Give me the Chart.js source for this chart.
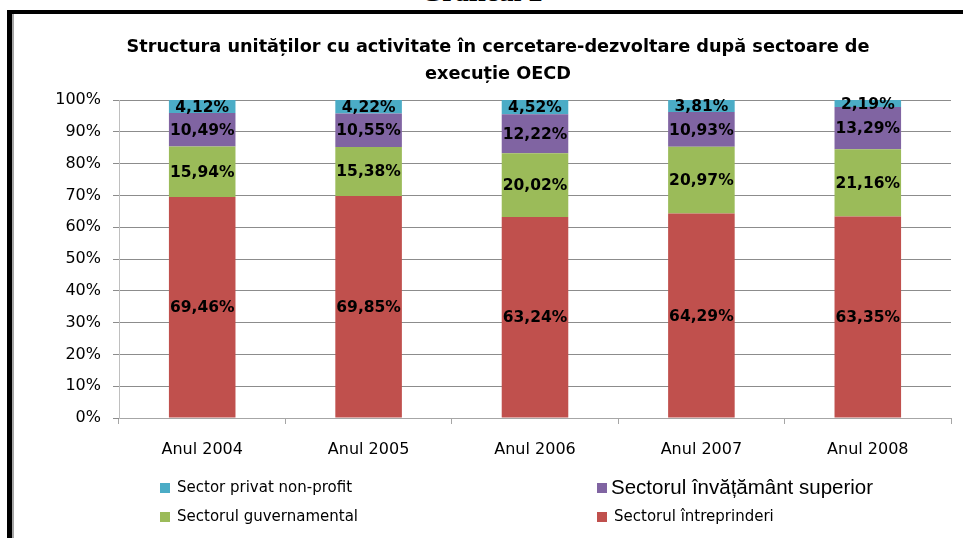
<!DOCTYPE html>
<html>
<head>
<meta charset="utf-8">
<script src="https://cdn.jsdelivr.net/npm/chart.js@4/dist/chart.umd.min.js"></script>
<style>
  html, body { margin: 0; padding: 0; background: #fff; }
  #wrap { position: relative; width: 963px; height: 538px; overflow: hidden; }
  #frame { position: absolute; left: 7px; top: 10px; right: -10px; bottom: -10px;
           border-left: 5px solid #000; border-top: 4px solid #000; }
  #inner { position: absolute; left: 12px; top: 14px; width: 2px; bottom: 0; background: #a6a6a6; }
  #cap { position: absolute; left: 0; width: 963px; top: -24px; line-height: 28px; text-align: center;
         font: bold 28px "Liberation Serif", serif; color: #000; }
  canvas { position: absolute; left: 0; top: 0; }
</style>
</head>
<body>
<div id="wrap">
  <div id="cap">Graficul 2</div>
  <div id="frame"></div>
  <div id="inner"></div>
  <canvas id="chart" width="963" height="538"></canvas>
</div>
<script>
// ani
var categories = ['Anul 2004', 'Anul 2005', 'Anul 2006', 'Anul 2007', 'Anul 2008'];
// procente pe sectoare
var intreprinderi = [69.46, 69.85, 63.24, 64.29, 63.35];
var guvernamental = [15.94, 15.38, 20.02, 20.97, 21.16];
var superior = [10.49, 10.55, 12.22, 10.93, 13.29];
var privat = [4.12, 4.22, 4.52, 3.81, 2.19];
var yTicks = [0, 10, 20, 30, 40, 50, 60, 70, 80, 90, 100];

var titleLines = ['Structura unităților cu activitate în cercetare-dezvoltare după sectoare de', 'execuție OECD'];

function fmt(v) {
  return v.toFixed(2).replace('.', ',') + '%';
}

// etichete in mijlocul segmentelor
var labelPlugin = {
  id: 'segLabels',
  afterDatasetsDraw: function(chart) {
    var ctx = chart.ctx;
    ctx.save();
    ctx.font = 'bold 15.5px "DejaVu Sans"';
    ctx.fillStyle = '#000';
    ctx.textAlign = 'center';
    ctx.textBaseline = 'middle';
    chart.data.datasets.forEach(function(ds, i) {
      var meta = chart.getDatasetMeta(i);
      meta.data.forEach(function(bar, j) {
        var mid = (bar.y + bar.base) / 2;
        ctx.fillText(fmt(ds.data[j]), bar.x, mid + 1);
      });
    });
    ctx.restore();
  }
};

// titlu si legenda
var textPlugin = {
  id: 'texts',
  afterDraw: function(chart) {
    var ctx = chart.ctx;
    ctx.save();
    ctx.fillStyle = '#000';
    ctx.textAlign = 'center';
    ctx.textBaseline = 'middle';
    ctx.font = 'bold 17.7px "DejaVu Sans"';
    ctx.fillText(titleLines[0], 498, 47);
    ctx.fillText(titleLines[1], 498, 74);

    var order = [3, 2, 1, 0];
    var cols = [160, 597];
    var rows = [488, 517];
    order.forEach(function(di, k) {
      var ds = chart.data.datasets[di];
      var x = cols[k % 2];
      var y = rows[Math.floor(k / 2)];
      ctx.fillStyle = ds.backgroundColor;
      ctx.fillRect(x, y - 5, 10, 10);
      ctx.fillStyle = '#000';
      ctx.textAlign = 'left';
      ctx.font = di === 2 ? '20.5px "Liberation Sans"' : '15px "DejaVu Sans"';
      ctx.fillText(ds.label, x + (di === 2 ? 14 : 17), y);
    });
    ctx.restore();
  }
};

new Chart(document.getElementById('chart').getContext('2d'), {
  type: 'bar',
  data: {
    labels: categories,
    datasets: [
      { label: 'Sectorul întreprinderi', data: intreprinderi, backgroundColor: '#C0504D' },
      { label: 'Sectorul guvernamental', data: guvernamental, backgroundColor: '#9BBB59' },
      { label: 'Sectorul învățământ superior', data: superior, backgroundColor: '#8064A2' },
      { label: 'Sector privat non-profit', data: privat, backgroundColor: '#4BACC6' }
    ]
  },
  options: {
    responsive: false,
    animation: false,
    layout: { padding: { left: 0, right: 12, top: 100, bottom: 0 } },
    datasets: { bar: { barPercentage: 0.8, categoryPercentage: 0.5 } },
    plugins: {
      legend: { display: false },
      title: { display: false },
      tooltip: { enabled: false }
    },
    scales: {
      x: {
        stacked: true,
        grid: { offset: true, drawOnChartArea: false, color: '#a6a6a6', tickLength: 6 },
        border: { color: '#a6a6a6' },
        ticks: { color: '#000', font: { family: 'DejaVu Sans', size: 16 }, padding: 16 },
        afterFit: function(s) { s.height = 120; }
      },
      y: {
        stacked: true,
        min: 0,
        max: 100,
        afterBuildTicks: function(s) { s.ticks = yTicks.map(function(v) { return { value: v }; }); },
        grid: { color: '#8c8c8c', tickLength: 6 },
        border: { color: '#bfbfbf' },
        ticks: {
          color: '#000',
          font: { family: 'DejaVu Sans', size: 16 },
          padding: 12,
          callback: function(v) { return v + '%'; }
        },
        afterFit: function(s) { s.width = 119; }
      }
    }
  },
  plugins: [labelPlugin, textPlugin]
});
</script>
</body>
</html>
